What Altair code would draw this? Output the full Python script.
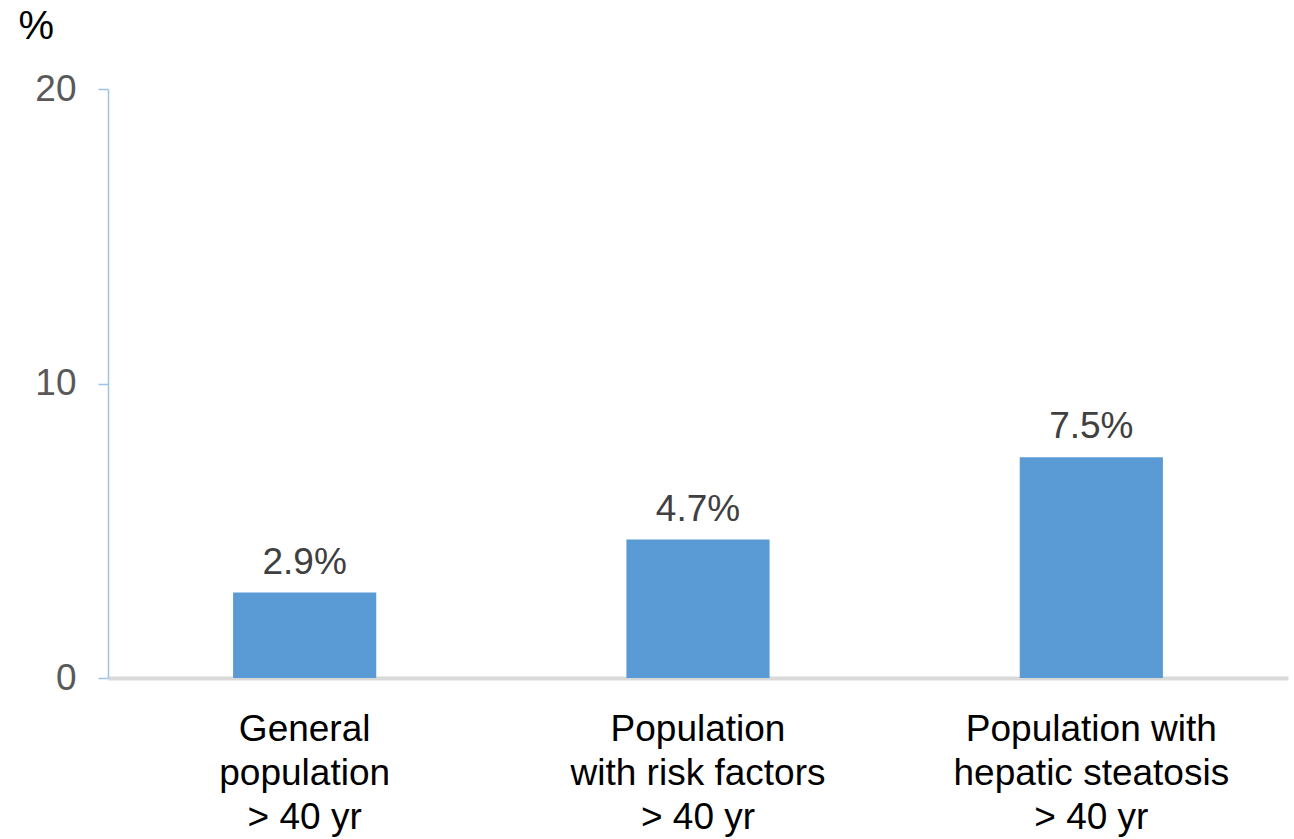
import altair as alt
import pandas as pd

categories = [
    "General\npopulation\n> 40 yr",
    "Population\nwith risk factors\n> 40 yr",
    "Population with\nhepatic steatosis\n> 40 yr",
]
values = [2.9, 4.7, 7.5]
value_labels = ["2.9%", "4.7%", "7.5%"]
y_ticks = [0, 10, 20]

df = pd.DataFrame({"group": categories, "pct": values, "label": value_labels})

FONT = "Liberation Sans"

x_enc = alt.X(
    "group:N",
    sort=categories,
    scale=alt.Scale(paddingInner=0.636, paddingOuter=0.318),
    axis=alt.Axis(
        title=None,
        labelAngle=0,
        labelExpr="split(datum.label, '\\n')",
        labelFont=FONT,
        labelFontSize=37,
        labelLineHeight=44,
        labelColor="#000000",
        labelPadding=33,
        labelBaseline="top",
        labelLimit=0,
        ticks=False,
        grid=False,
        domainColor="#d9d9d9",
        domainWidth=4,
    ),
)

y_enc = alt.Y(
    "pct:Q",
    scale=alt.Scale(domain=[0, 20], nice=False),
    axis=alt.Axis(
        title="%",
        titleAngle=0,
        titleX=-90,
        titleY=-51,
        titleAlign="left",
        titleBaseline="alphabetic",
        titleFont=FONT,
        titleFontSize=40,
        titleFontWeight="normal",
        titleColor="#000000",
        values=y_ticks,
        grid=False,
        domainColor="#9dc3e6",
        domainWidth=1.5,
        tickColor="#9dc3e6",
        tickWidth=1.5,
        tickSize=10,
        labelFont=FONT,
        labelFontSize=37,
        labelColor="#595959",
        labelPadding=22,
    ),
)

bars = alt.Chart(df).mark_bar(color="#5b9bd5").encode(x=x_enc, y=y_enc)

texts = alt.Chart(df).mark_text(
    font=FONT, fontSize=37, color="#404040", baseline="alphabetic", dy=-19
).encode(x=alt.X("group:N", sort=categories), y=alt.Y("pct:Q"), text="label:N")

chart = (
    alt.layer(bars, texts)
    .properties(
        width=1180,
        height=589,
        background="#ffffff",
        autosize=alt.AutoSizeParams(type="none"),
        padding={"left": 108, "top": 89, "right": 6, "bottom": 161},
    )
    .configure_view(strokeWidth=0, stroke="transparent")
)

chart.save("out.html", embed_options={"renderer": "svg", "actions": False})
